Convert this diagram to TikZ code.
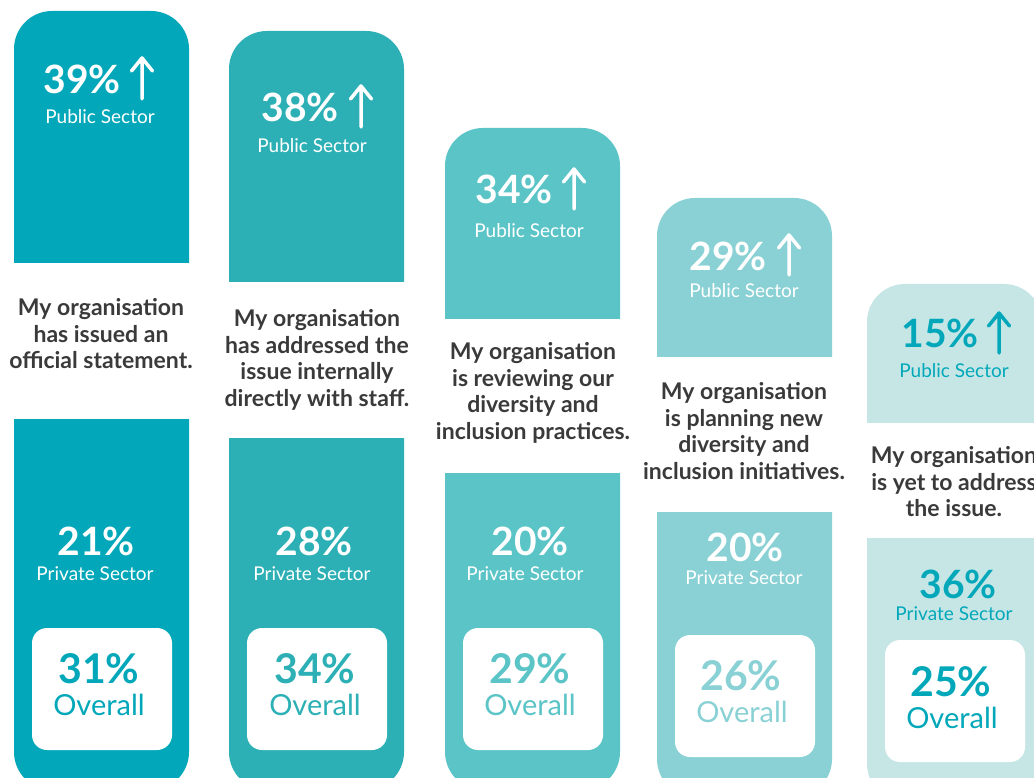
\documentclass[tikz,border=0pt]{standalone}
\usepackage{fontspec}
\setmainfont{Lato}
\definecolor{cA}{HTML}{02A8B9}
\definecolor{cB}{HTML}{2CB0B5}
\definecolor{cC}{HTML}{5BC4C7}
\definecolor{cD}{HTML}{89D1D4}
\definecolor{cE}{HTML}{C6E6E6}
\definecolor{txt}{HTML}{3A3A3A}
\newcommand\drawcol[6]{%
  \begin{scope}\clip (#1,#2-1) rectangle (#1+175,#3);
    \fill[#6, rounded corners=38] (#1,#2) rectangle (#1+175,#3+60);\end{scope}
  \begin{scope}\clip (#1,#4) rectangle (#1+175,800);
    \fill[#6, rounded corners=38] (#1,#4-60) rectangle (#1+175,#5+122+40);\end{scope}
  \fill[white, rounded corners=15] (#1+18,#5) rectangle (#1+158,#5+122);}
\newcommand\uparr[4]{%
  \draw[#4, line width=3.5, line cap=round, line join=round]
    (#1,#3) -- (#1,#2) (#1-10.5,#2+13) -- (#1,#2) -- (#1+10.5,#2+13);}
\tikzset{
  bignum/.style={inner sep=0, font=\fontsize{39}{44}\bfseries\selectfont},
  sector/.style={inner sep=0, font=\fontsize{19}{22}\selectfont},
  stmt/.style={inner sep=0, text=txt, align=center, font=\fontsize{23}{26.5}\bfseries\selectfont},
  ovnum/.style={inner sep=0, font=\fontsize{41}{46}\bfseries\selectfont},
  ovlab/.style={inner sep=0, font=\fontsize{29}{32}\selectfont},
}
\begin{document}
\begin{tikzpicture}[x=1pt,y=-1pt]
\useasboundingbox (0,0) rectangle (1034,778);
\clip (0,0) rectangle (1034,778);
\fill[white] (0,0) rectangle (1034,778);

\drawcol{14}{11}{263}{419}{628}{cA}
\drawcol{229}{31}{282}{438}{628}{cB}
\drawcol{445}{128}{318}{473}{628}{cC}
\drawcol{657}{198}{356}{512}{635}{cD}
\drawcol{867}{284}{422}{538}{640}{cE}

% column 1
\node[bignum, text=white] (p1) at (82,79) {39\%};
\uparr{142}{58}{99}{white}
\node[sector, text=white] (ps1) at (100,117) {Public Sector};
\node[stmt] (s1) at (101,334) {My organisation\\has issued an\\official statement.};
\node[bignum, text=white] (v1) at (96,541) {21\%};
\node[sector, text=white] (vs1) at (95,574) {Private Sector};
\node[ovnum, text=cA] (o1) at (99,669) {31\%};
\node[ovlab, text=cA] (ol1) at (99,705) {Overall};

% column 2
\node[bignum, text=white] (p2) at (300,107) {38\%};
\uparr{361}{86}{127}{white}
\node[sector, text=white] (ps2) at (312,146) {Public Sector};
\node[stmt] (s2) at (317,360) {My organisation\\has addressed the\\issue internally\\directly with staff.};
\node[bignum, text=white] (v2) at (314,541) {28\%};
\node[sector, text=white] (vs2) at (312,574) {Private Sector};
\node[ovnum, text=cB] (o2) at (315,669) {34\%};
\node[ovlab, text=cB] (ol2) at (315,705) {Overall};

% column 3
\node[bignum, text=white] (p3) at (514,189) {34\%};
\uparr{574}{169}{209}{white}
\node[sector, text=white] (ps3) at (529,231) {Public Sector};
\node[stmt] (s3) at (533,393) {My organisation\\is reviewing our\\diversity and\\inclusion practices.};
\node[bignum, text=white] (v3) at (530,541) {20\%};
\node[sector, text=white] (vs3) at (525,574) {Private Sector};
\node[ovnum, text=cC] (o3) at (530,669) {29\%};
\node[ovlab, text=cC] (ol3) at (530,705) {Overall};

% column 4
\node[bignum, text=white] (p4) at (728,256) {29\%};
\uparr{789}{235}{275}{white}
\node[sector, text=white] (ps4) at (744,291) {Public Sector};
\node[stmt] (s4) at (744,431) {My organisation\\is planning new\\diversity and\\inclusion initiatives.};
\node[bignum, text=white] (v4) at (745,547) {20\%};
\node[sector, text=white] (vs4) at (744,578) {Private Sector};
\node[ovnum, text=cD] (o4) at (741,676) {26\%};
\node[ovlab, text=cD] (ol4) at (742,712) {Overall};

% column 5
\node[bignum, text=cA] (p5) at (940,333) {15\%};
\uparr{999}{313}{353}{cA}
\node[sector, text=cA] (ps5) at (954,371) {Public Sector};
\node[stmt] (s5) at (954,482) {My organisation\\is yet to address\\the issue.};
\node[bignum, text=cA] (v5) at (958,584) {36\%};
\node[sector, text=cA] (vs5) at (954,614) {Private Sector};
\node[ovnum, text=cA] (o5) at (951,682) {25\%};
\node[ovlab, text=cA] (ol5) at (952,718) {Overall};
\end{tikzpicture}
\end{document}
